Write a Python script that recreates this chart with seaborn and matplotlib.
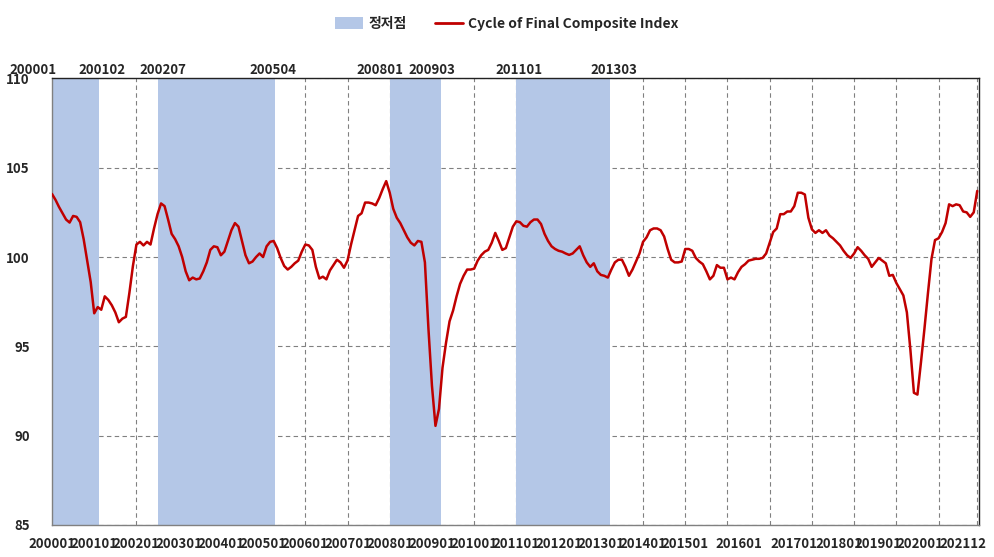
import pandas as pd
import seaborn as sns
import matplotlib.pyplot as plt
import matplotlib.transforms as mtransforms
from matplotlib.patches import Patch
from matplotlib.lines import Line2D

# 최종 합성지수 순환변동치 (월별, 2000.01 ~ 2021.12)
y2000 = [103.53, 103.2, 102.8, 102.45, 102.1, 101.93, 102.3, 102.25, 101.95, 101.0, 99.8, 98.6]
y2001 = [96.85, 97.2, 97.05, 97.8, 97.6, 97.3, 96.9, 96.35, 96.55, 96.65, 98.0, 99.5]
y2002 = [100.7, 100.85, 100.65, 100.85, 100.7, 101.6, 102.4, 103.0, 102.85, 102.1, 101.3, 101.0]
y2003 = [100.6, 100.0, 99.2, 98.7, 98.85, 98.75, 98.8, 99.2, 99.7, 100.4, 100.6, 100.55]
y2004 = [100.1, 100.3, 100.9, 101.5, 101.9, 101.7, 100.9, 100.1, 99.65, 99.75, 100.0, 100.2]
y2005 = [100.0, 100.6, 100.85, 100.9, 100.5, 99.95, 99.5, 99.3, 99.45, 99.65, 99.8, 100.3]
y2006 = [100.7, 100.65, 100.4, 99.45, 98.8, 98.9, 98.75, 99.25, 99.55, 99.85, 99.7, 99.4]
y2007 = [99.8, 100.7, 101.5, 102.3, 102.45, 103.05, 103.05, 103.0, 102.9, 103.3, 103.8, 104.25]
y2008 = [103.6, 102.7, 102.2, 101.9, 101.5, 101.1, 100.8, 100.65, 100.9, 100.85, 99.7, 96.0]
y2009 = [92.8, 90.55, 91.5, 93.8, 95.2, 96.4, 97.0, 97.8, 98.5, 98.95, 99.3, 99.3]
y2010 = [99.35, 99.8, 100.1, 100.3, 100.4, 100.8, 101.35, 100.9, 100.4, 100.5, 101.1, 101.7]
y2011 = [102.0, 101.95, 101.75, 101.7, 101.95, 102.1, 102.1, 101.85, 101.3, 100.9, 100.6, 100.45]
y2012 = [100.35, 100.3, 100.2, 100.12, 100.2, 100.4, 100.6, 100.1, 99.7, 99.45, 99.65, 99.2]
y2013 = [99.0, 98.95, 98.85, 99.3, 99.7, 99.85, 99.85, 99.45, 98.95, 99.3, 99.75, 100.2]
y2014 = [100.85, 101.1, 101.5, 101.6, 101.6, 101.5, 101.15, 100.45, 99.85, 99.7, 99.7, 99.75]
y2015 = [100.45, 100.45, 100.35, 99.95, 99.75, 99.6, 99.2, 98.75, 98.95, 99.55, 99.4, 99.4]
y2016 = [98.75, 98.85, 98.75, 99.15, 99.45, 99.6, 99.8, 99.85, 99.9, 99.9, 99.95, 100.2]
y2017 = [100.8, 101.4, 101.6, 102.4, 102.4, 102.55, 102.55, 102.85, 103.6, 103.6, 103.5, 102.2]
y2018 = [101.55, 101.35, 101.5, 101.35, 101.5, 101.2, 101.05, 100.85, 100.65, 100.35, 100.1, 99.95]
y2019 = [100.2, 100.55, 100.35, 100.1, 99.9, 99.45, 99.7, 99.95, 99.8, 99.65, 98.95, 99.0]
y2020 = [98.55, 98.2, 97.85, 96.9, 94.8, 92.4, 92.3, 94.1, 96.0, 98.0, 99.9, 100.95]
y2021 = [101.05, 101.4, 101.9, 102.95, 102.85, 102.95, 102.9, 102.55, 102.5, 102.25, 102.5, 103.7]

# 정저점 구간 (시작, 끝)
phase_start = ["200001", "200207", "200801", "201101"]
phase_end = ["200102", "200504", "200903", "201303"]

cycle = (y2000 + y2001 + y2002 + y2003 + y2004 + y2005 + y2006 + y2007 + y2008 + y2009 + y2010
         + y2011 + y2012 + y2013 + y2014 + y2015 + y2016 + y2017 + y2018 + y2019 + y2020 + y2021)
months = [p.strftime("%Y%m") for p in pd.period_range("2000-01", "2021-12", freq="M")]
df = pd.DataFrame({"month": months, "idx": range(len(months)), "value": cycle})

shade = "#B4C7E7"
red = "#C00000"

sns.set_style("white")
plt.rcParams['font.family'] = ['Noto Sans CJK KR', 'DejaVu Sans']
plt.rcParams['font.weight'] = 'bold'

fig = plt.figure(figsize=(9.94, 5.57), dpi=100)
ax = fig.add_axes([52 / 994, 1 - 525 / 557, (979 - 52) / 994, (525 - 78.4) / 557])

# 정저점 음영
for s, e in zip(phase_start, phase_end):
    ax.axvspan(months.index(s), months.index(e) + 0.5, color=shade, lw=0, zorder=1)

sns.lineplot(data=df, x="idx", y="value", color=red, lw=1.8, ax=ax, zorder=3)

# 축 설정
ax.set_xlim(0, 263.5)
ax.set_ylim(85, 110)
ax.set_yticks([85, 90, 95, 100, 105, 110])
xt = list(range(0, 264, 12)) + [263]
xl = [months[i] for i in xt]
xl[-2] = ""
ax.set_xticks(xt)
ax.set_xticklabels(xl)
ax.set_xlabel("")
ax.set_ylabel("")
ax.tick_params(axis="both", direction="out", length=5, width=0.8, color="#808080",
               labelsize=9.5)
ax.tick_params(axis="x", pad=4)
ax.tick_params(axis="y", pad=11)
ax.set_axisbelow(True)
ax.grid(True, ls=(0, (4, 3)), color="#808080", lw=0.8)

# 엑셀처럼 뒤쪽 라벨이 밀려 있는 부분 (px)
label_shift = {"201601": 11, "201701": 24, "201801": 27, "201901": 24, "202001": 24, "202112": -14}
for lab in ax.get_xticklabels():
    dx = label_shift.get(lab.get_text(), 0)
    if dx:
        off = mtransforms.ScaledTranslation(dx / 100, 0, fig.dpi_scale_trans)
        lab.set_transform(lab.get_transform() + off)

for side in ["left", "bottom"]:
    ax.spines[side].set_color("#808080")
for side in ["top", "right"]:
    ax.spines[side].set_color("#222222")
for sp in ax.spines.values():
    sp.set_linewidth(1.0)

# 상단 전환점 라벨
top_nudge = [-5.5, 0.7, 1.4, -0.8, -2.8, -2.5, 0.7, 1.3]
bounds = []
for s, e in zip(phase_start, phase_end):
    bounds += [(s, months.index(s)), (e, months.index(e) + 0.5)]
trans = mtransforms.blended_transform_factory(ax.transData, ax.transAxes)
for (name, pos), dx in zip(bounds, top_nudge):
    ax.text(pos + dx, 1.004, name, transform=trans, ha="center", va="bottom",
            fontsize=9.5, clip_on=False)

# 범례
handles = [Patch(facecolor=shade, edgecolor="none"),
           Line2D([0], [0], color=red, lw=2)]
fig.legend(handles, ["정저점", "Cycle of Final Composite Index"], loc="center",
           bbox_to_anchor=(0.51, 0.957), ncol=2, frameon=False, fontsize=10,
           handlelength=2.0, handleheight=0.9, handletextpad=0.4, columnspacing=2.0)

fig.savefig("out.png", dpi=100)
